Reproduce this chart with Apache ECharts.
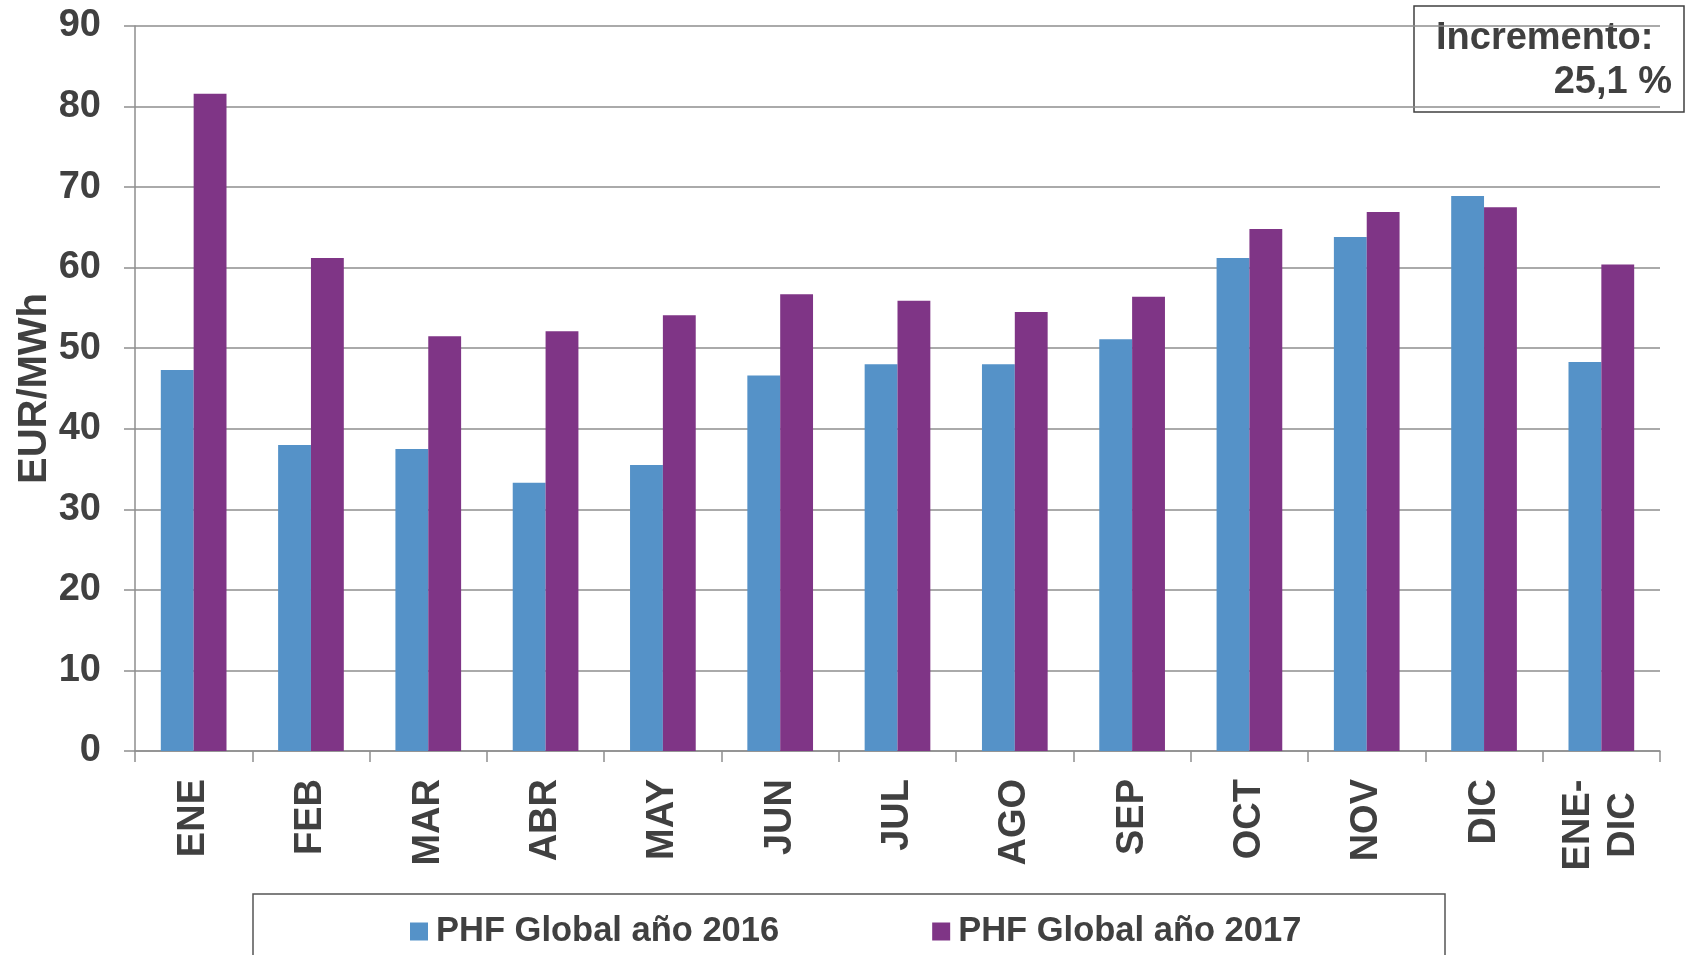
<!DOCTYPE html>
<html>
<head>
<meta charset="utf-8">
<script src="https://cdn.jsdelivr.net/npm/echarts@6/dist/echarts.min.js"></script>
<style>
  html, body { margin: 0; padding: 0; background: #ffffff; }
  #chart { width: 1690px; height: 955px; }
</style>
</head>
<body>
<div id="chart"></div>
<script>
// Monthly PHF global price (EUR/MWh), 2016 vs 2017
const categories = ['ENE', 'FEB', 'MAR', 'ABR', 'MAY', 'JUN', 'JUL', 'AGO', 'SEP', 'OCT', 'NOV', 'DIC', 'ENE-\nDIC'];
const phf2016 = [47.3, 38.0, 37.5, 33.3, 35.5, 46.6, 48.0, 48.0, 51.1, 61.2, 63.8, 68.9, 48.3];
const phf2017 = [81.6, 61.2, 51.5, 52.1, 54.1, 56.7, 55.9, 54.5, 56.4, 64.8, 66.9, 67.5, 60.4];
const seriesNames = ['PHF Global año 2016', 'PHF Global año 2017'];
const yTicks = { min: 0, max: 90, interval: 10 };
const axisName = 'EUR/MWh';
const noteLines = ['Incremento:', '25,1 %'];

const FONT = '"Liberation Sans", Arial, sans-serif';
const TEXT = '#404040';
const GRID_GRAY = '#8e8e8e';

const chart = echarts.init(document.getElementById('chart'), null, { renderer: 'canvas' });

chart.setOption({
  animation: false,
  backgroundColor: '#ffffff',
  textStyle: { fontFamily: FONT },
  grid: { left: 135, right: 30, top: 26, bottom: 204 },
  legend: {
    data: seriesNames,
    left: 405,
    top: 909,
    itemWidth: 18,
    itemHeight: 18,
    itemGap: 153,
    icon: 'rect',
    textStyle: {
      fontFamily: FONT, fontSize: 34.5, fontWeight: 'bold', color: TEXT,
      padding: [0, 0, 0, 3]
    }
  },
  xAxis: {
    type: 'category',
    data: categories,
    axisLine: { lineStyle: { color: GRID_GRAY, width: 1.5 } },
    axisTick: { show: true, length: 11, lineStyle: { color: GRID_GRAY, width: 1.5 } },
    axisLabel: {
      rotate: 90,
      margin: 28,
      interval: 0,
      fontFamily: FONT,
      fontSize: 38,
      fontWeight: 'bold',
      color: TEXT,
      formatter: function (v) {
        if (v.indexOf('\n') < 0) return v;
        return v.split('\n').map(function (s) { return '{c|' + s + '}'; }).join('\n');
      },
      rich: {
        c: { width: 92, align: 'center', fontFamily: FONT, fontSize: 38, fontWeight: 'bold', color: TEXT, lineHeight: 45 }
      }
    }
  },
  yAxis: {
    type: 'value',
    min: yTicks.min,
    max: yTicks.max,
    interval: yTicks.interval,
    name: axisName,
    nameLocation: 'middle',
    nameGap: 80,
    nameRotate: 90,
    nameMoveOverlap: false,
    nameTextStyle: { fontFamily: FONT, fontSize: 40, fontWeight: 'bold', color: TEXT },
    axisLine: { show: true, lineStyle: { color: GRID_GRAY, width: 1.5 } },
    axisTick: { show: true, length: 11, lineStyle: { color: GRID_GRAY, width: 1.5 } },
    axisLabel: { margin: 34, fontFamily: FONT, fontSize: 38, fontWeight: 'bold', color: TEXT },
    splitLine: { show: true, lineStyle: { color: GRID_GRAY, width: 1.5 } }
  },
  series: [
    {
      name: seriesNames[0],
      type: 'bar',
      data: phf2016,
      barGap: '0%',
      barCategoryGap: '44%',
      itemStyle: { color: '#5592c8' }
    },
    {
      name: seriesNames[1],
      type: 'bar',
      data: phf2017,
      barGap: '0%',
      barCategoryGap: '44%',
      itemStyle: { color: '#7f3586' }
    }
  ],
  graphic: [
    // frame around the legend
    {
      type: 'rect',
      z: 0,
      shape: { x: 253, y: 894, width: 1192, height: 90 },
      style: { fill: 'none', stroke: '#555555', lineWidth: 1.5 }
    },
    // increment note box
    {
      type: 'group',
      z: 100,
      children: [
        {
          type: 'rect',
          shape: { x: 1414, y: 6, width: 270, height: 106 },
          style: { fill: '#ffffff', stroke: '#404040', lineWidth: 1.5 }
        },
        {
          type: 'text',
          x: 1436, y: 39,
          style: {
            text: noteLines[0], fill: TEXT, font: 'bold 38px ' + FONT,
            textAlign: 'left', textVerticalAlign: 'middle'
          }
        },
        {
          type: 'text',
          x: 1672, y: 83,
          style: {
            text: noteLines[1], fill: TEXT, font: 'bold 38px ' + FONT,
            textAlign: 'right', textVerticalAlign: 'middle'
          }
        }
      ]
    }
  ]
});
</script>
</body>
</html>
